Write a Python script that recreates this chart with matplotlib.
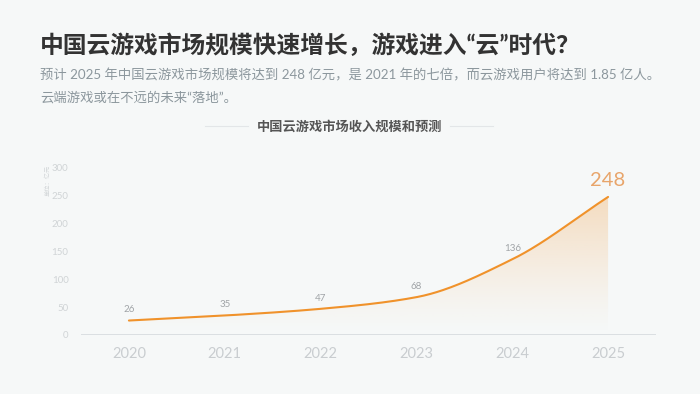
import numpy as np
import matplotlib
matplotlib.use("Agg")
from matplotlib import pyplot as plt
from matplotlib.colors import to_rgb

plt.rcParams['font.family'] = ['Noto Sans CJK SC', 'DejaVu Sans']

# dados
anos = [2020, 2021, 2022, 2023, 2024, 2025]
receita = [26, 35, 47, 68, 136, 248]
yticks = [0, 50, 100, 150, 200, 250, 300]

titulo = "中国云游戏市场规模快速增长，游戏进入“云”时代？"
sub1 = "预计 2025 年中国云游戏市场规模将达到 248 亿元，是 2021 年的七倍，而云游戏用户将达到 1.85 亿人。"
sub2 = "云端游戏或在不远的未来“落地”。"
titulo_graf = "中国云游戏市场收入规模和预测"
unidade = "单位：亿元"

BG = "#f6f8f8"
LARANJA = "#f0922b"
FAM_MISTA = ['Lato', 'Noto Sans CJK SC', 'DejaVu Sans']


def suavizar(x, y, n=300):
    # curva cúbica monotônica (pchip simples) só para desenhar
    x = np.asarray(x, float)
    y = np.asarray(y, float)
    h = np.diff(x)
    d = np.diff(y) / h
    m = np.zeros_like(y)
    for k in range(1, len(x) - 1):
        if d[k - 1] * d[k] > 0:
            w1 = 2 * h[k] + h[k - 1]
            w2 = h[k] + 2 * h[k - 1]
            m[k] = (w1 + w2) / (w1 / d[k - 1] + w2 / d[k])
    m[0] = d[0]
    m[-1] = d[-1]
    xs = np.linspace(x[0], x[-1], n)
    idx = np.clip(np.searchsorted(x, xs) - 1, 0, len(x) - 2)
    t = (xs - x[idx]) / h[idx]
    h00 = 2 * t**3 - 3 * t**2 + 1
    h10 = t**3 - 2 * t**2 + t
    h01 = -2 * t**3 + 3 * t**2
    h11 = t**3 - t**2
    ys = h00 * y[idx] + h10 * h[idx] * m[idx] + h01 * y[idx + 1] + h11 * h[idx] * m[idx + 1]
    return xs, ys


W, H = 700, 394
fig = plt.figure(figsize=(W / 100, H / 100), dpi=100, facecolor=BG)


def px(x, y):
    return x / W, 1 - y / H


# textos do topo
fig.text(*px(40, 45), titulo, fontsize=17.1, fontweight="bold", color="#333333",
         va="center", ha="left", family=FAM_MISTA)
fig.text(*px(40, 75), sub1, fontsize=9.6, color="#8c979d", va="center", ha="left", family=FAM_MISTA)
fig.text(*px(40, 97), sub2, fontsize=9.6, color="#8c979d", va="center", ha="left", family=FAM_MISTA)
fig.text(*px(350, 127), titulo_graf, fontsize=9.5, fontweight="bold", color="#555555", va="center", ha="center")
fig.add_artist(plt.Line2D([205 / W, 248 / W], [1 - 126 / H] * 2, color="#e3e6e8", lw=0.8))
fig.add_artist(plt.Line2D([450 / W, 493 / W], [1 - 126 / H] * 2, color="#e3e6e8", lw=0.8))
fig.text(*px(48, 180), unidade, fontsize=4.5, color="#d2d6d8", rotation=90, va="center", ha="center")

# eixo
ax = fig.add_axes([81 / W, (H - 335) / H, 575 / W, 167 / H])
ax.set_facecolor(BG)
ax.set_xlim(2019.5, 2025.5)
ax.set_ylim(0, 300)
for s in ax.spines.values():
    s.set_visible(False)
ax.axhline(0, color="#d6dbde", lw=1.2, zorder=1)

xs, ys = suavizar(anos, receita)

# preenchimento em degradê
poly = ax.fill_between(xs, 0, ys, color="none", lw=0)
grad = np.linspace(0, 1, 256).reshape(-1, 1)
img = np.zeros((256, 1, 4))
img[:, :, :3] = to_rgb(LARANJA)
img[:, :, 3] = 0.28 * grad**1.3
im = ax.imshow(img, extent=(anos[0], anos[-1], 0, max(receita)), origin="lower",
               aspect="auto", zorder=2)
im.set_clip_path(poly.get_paths()[0], transform=ax.transData)

ax.plot(xs, ys, color=LARANJA, lw=1.5, zorder=3, solid_capstyle="round")

# rótulos
for ano, v in zip(anos, receita):
    if ano == anos[-1]:
        ax.annotate(str(v), (ano, v), xytext=(0, 6), textcoords="offset points",
                    ha="center", va="bottom", fontsize=14.5, color="#e8a56b", family="Lato")
    else:
        ax.annotate(str(v), (ano, v), xytext=(0, 4.5), textcoords="offset points",
                    ha="center", va="bottom", fontsize=7, color="#a0a4a7", family="Lato")

ax.set_yticks(yticks)
ax.set_yticklabels([str(t) for t in yticks], fontsize=7, color="#d0d4d6", family="Lato")
ax.set_xticks(anos)
ax.set_xticklabels([str(a) for a in anos], fontsize=10.5, color="#c9cdd0", family="Lato")
ax.tick_params(axis="both", length=0)
ax.tick_params(axis="y", pad=9)
ax.tick_params(axis="x", pad=9)

fig.savefig("out.png", dpi=100, facecolor=BG)
